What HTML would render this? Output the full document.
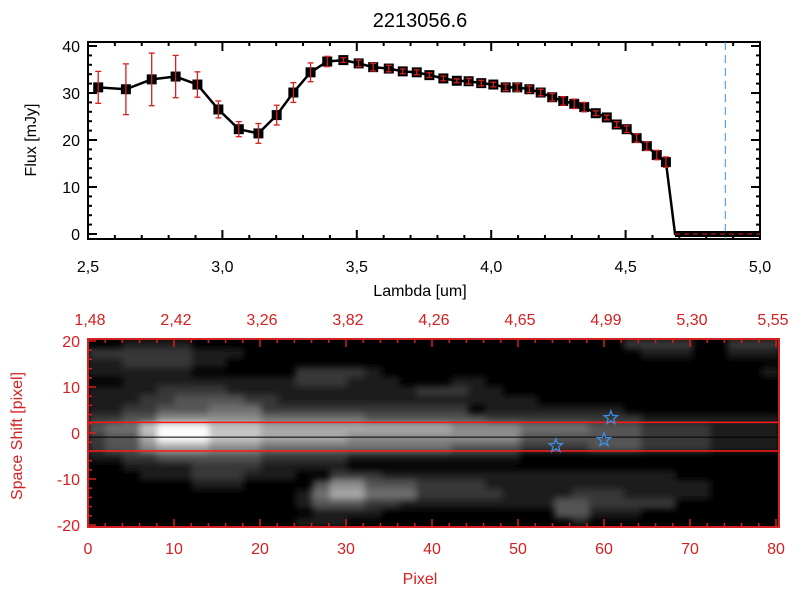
<!DOCTYPE html>
<html><head><meta charset="utf-8"><style>
html,body{margin:0;padding:0;background:#fff;}
svg{display:block;font-family:"Liberation Sans",sans-serif;}
</style></head><body>
<svg id="c" width="800" height="600" viewBox="0 0 800 600">
<defs>
<filter id="blr" x="-5%" y="-5%" width="110%" height="110%"><feGaussianBlur stdDeviation="3.5"/></filter>
<clipPath id="imgclip"><rect x="88" y="339" width="691" height="188"/></clipPath>
</defs>
</svg>
<script>
// ---- data ----
const lambdaVals = [2.538,2.641,2.737,2.826,2.907,2.985,3.061,3.134,3.202,3.264,3.328,3.390,3.450,3.507,3.561,3.619,3.671,3.723,3.770,3.822,3.872,3.916,3.963,4.008,4.054,4.097,4.142,4.184,4.227,4.268,4.309,4.346,4.389,4.430,4.467,4.504,4.541,4.579,4.616,4.650];
const fluxVals = [31.2,30.8,32.9,33.5,31.8,26.5,22.3,21.4,25.3,30.1,34.4,36.7,37.0,36.3,35.5,35.2,34.6,34.4,33.8,33.1,32.6,32.5,32.1,31.8,31.2,31.2,30.8,30.1,29.1,28.3,27.7,27.0,25.7,24.8,23.3,22.3,20.4,18.7,16.8,15.3];
const fluxErr = [3.4,5.4,5.6,4.5,2.7,1.8,1.6,2.1,2.1,2.1,2.0,1.1,0.5,0.7,0.8,0.7,0.5,0.5,0.5,0.5,0.4,0.6,0.6,0.5,0.7,0.8,0.7,0.7,0.8,0.9,1.0,1.0,0.5,0.5,0.6,0.7,0.9,0.9,1.0,1.1];
const tailLambda = [4.684,5.0];
const cutLambda = 4.871;
const xTickLabels = ["2.5","3.0","3.5","4.0","4.5","5.0"];
const yTickLabels = ["0","10","20","30","40"];
const pixTicks = [0,10,20,30,40,50,60,70,80];
const topWaveLabels = ["1.48","2.42","3.26","3.82","4.26","4.65","4.99","5.30","5.55"];
const shiftTicks = [-20,-10,0,10,20];
const apertureLines = [2.3,-3.9];
const traceLine = -0.9;
const starPix = [54.4,60.0,60.8];
const starShift = [-2.8,-1.5,3.3];
// heatmap rows: run-length [level,count], 40 columns x 20 rows, top (shift +20) to bottom
const heatRows = [
 [[0,2],[1,4],[0,25],[2,4],[0,2],[2,3]],
 [[2,6],[1,3],[0,23],[1,3],[0,2],[1,3]],
 [[1,2],[2,4],[1,2],[0,32]],
 [[1,6],[0,6],[2,4],[1,1],[0,22],[1,1]],
 [[0,2],[1,10],[2,3],[1,3],[0,3],[1,2],[0,17]],
 [[1,4],[2,4],[1,5],[1,6],[2,3],[1,2],[0,16]],
 [[1,3],[2,2],[3,4],[2,2],[1,11],[1,4],[0,14]],
 [[1,2],[2,2],[3,3],[4,3],[2,3],[2,9],[0,1],[1,8],[0,9]],
 [[2,2],[3,2],[5,2],[5,4],[4,6],[3,7],[2,5],[2,4],[1,8]],
 [[3,1],[4,2],[7,1],[9,3],[7,3],[6,5],[6,6],[5,4],[4,4],[3,3],[2,4],[1,4]],
 [[2,1],[3,2],[6,1],[9,3],[7,3],[6,5],[5,6],[5,4],[3,4],[3,3],[2,4],[1,4]],
 [[2,1],[3,2],[5,1],[6,3],[5,3],[4,5],[4,6],[3,4],[2,4],[3,3],[2,4],[1,4]],
 [[1,2],[2,2],[3,3],[3,3],[2,5],[1,6],[1,4],[0,15]],
 [[0,2],[1,4],[2,4],[1,5],[0,25]],
 [[0,3],[1,3],[2,3],[1,3],[0,2],[2,3],[1,4],[1,9],[1,4],[0,6]],
 [[0,6],[1,3],[0,4],[3,1],[5,2],[3,3],[2,4],[1,9],[1,4],[0,4]],
 [[0,12],[1,1],[4,1],[6,2],[4,3],[2,5],[1,4],[2,3],[1,5],[0,4]],
 [[0,12],[1,1],[3,3],[2,2],[1,9],[3,2],[2,5],[0,6]],
 [[0,13],[1,4],[0,10],[3,2],[1,3],[0,8]],
 [[0,12],[1,3],[0,13],[1,1],[0,11]]
];
</script>
<script>
const NS="http://www.w3.org/2000/svg";
const svg=document.getElementById('c');
function mk(tag,attrs,parent){const e=document.createElementNS(NS,tag);for(const k in attrs)e.setAttribute(k,attrs[k]);(parent||svg).appendChild(e);return e;}
const RED="#d42020";
const T={l:88,r:760,t:42,b:239};
const xs=v=>T.l+(v-2.5)*(T.r-T.l)/2.5;
const ys=v=>234-v*4.7;
let e=mk('text',{x:420,y:27,'text-anchor':'middle','font-size':20,fill:'#000'});e.textContent='2213056.6';


e=mk('rect',{x:T.l,y:T.t,width:T.r-T.l,height:T.b-T.t,fill:'none',stroke:'#000','stroke-width':2});


for(let i=0;i<=25;i++){const v=2.5+i*0.1;const x=xs(v);const L=(i%5==0)?9:4;
 mk('line',{x1:x,y1:T.b,x2:x,y2:T.b-L,stroke:'#000','stroke-width':2});
 mk('line',{x1:x,y1:T.t,x2:x,y2:T.t+L,stroke:'#000','stroke-width':2});}
xTickLabels.forEach((s,i)=>{e=mk('text',{x:xs(parseFloat(s)),y:272,'text-anchor':'middle','font-size':16,fill:'#000'});e.textContent=s.replace('.',',');
 
 });
for(let v=0;v<=40;v+=2){const y=ys(v);const L=(v%10==0)?9:4;
 mk('line',{x1:T.l,y1:y,x2:T.l+L,y2:y,stroke:'#000','stroke-width':2});
 mk('line',{x1:T.r,y1:y,x2:T.r-L,y2:y,stroke:'#000','stroke-width':2});}
yTickLabels.forEach(s=>{e=mk('text',{x:80,y:ys(+s)+6,'text-anchor':'end','font-size':16,fill:'#000'});e.textContent=s;
 
 });
e=mk('text',{x:420,y:296,'text-anchor':'middle','font-size':16,fill:'#000'});e.textContent='Lambda [um]';


e=mk('text',{x:0,y:0,'text-anchor':'middle','font-size':16,fill:'#000',transform:'translate(36,140) rotate(-90)'});e.textContent='Flux [mJy]';


e=mk('line',{x1:xs(cutLambda),y1:T.t,x2:xs(cutLambda),y2:T.b,stroke:'#3a8ee6','stroke-width':1,'stroke-dasharray':'8,5'});


let pts=lambdaVals.map((v,i)=>xs(v)+','+ys(fluxVals[i]));
pts.push(xs(tailLambda[0])+','+ys(0));pts.push(xs(tailLambda[1])+','+ys(0));
e=mk('polyline',{points:pts.join(' '),fill:'none',stroke:'#000','stroke-width':2.5});


e=mk('rect',{x:xs(tailLambda[0]),y:ys(0)-3,width:xs(tailLambda[1])-xs(tailLambda[0]),height:6,fill:'#000'});


e=mk('line',{x1:xs(tailLambda[0]),y1:ys(0),x2:xs(tailLambda[1]),y2:ys(0),stroke:RED,'stroke-width':1,'stroke-dasharray':'5,4'});


lambdaVals.forEach((v,i)=>{const x=xs(v),y=ys(fluxVals[i]);
 e=mk('rect',{x:x-5,y:y-5,width:10,height:10,fill:'#000'});
 
 
 const y1=ys(fluxVals[i]+fluxErr[i]),y2=ys(fluxVals[i]-fluxErr[i]);
 const g=mk('g',{stroke:RED,'stroke-width':1.3});
 
 
 mk('line',{x1:x,y1:y1,x2:x,y2:y2},g);
 mk('line',{x1:x-3,y1:y1,x2:x+3,y2:y1},g);
 mk('line',{x1:x-3,y1:y2,x2:x+3,y2:y2},g);});
// bottom panel
const B={l:88,r:779,t:339,b:527};
const px=v=>88+v*8.6;
const sy=v=>433-v*4.6;
const cw=(B.r-B.l)/40, ch=(B.b-B.t)/20;
mk('rect',{x:B.l,y:B.t,width:B.r-B.l,height:B.b-B.t,fill:'#000'});
const clipG=mk('g',{'clip-path':'url(#imgclip)'});
const hg=mk('g',{filter:'url(#blr)'},clipG);


heatRows.forEach((row,r)=>{let c=0;row.forEach(([lv,n])=>{
 if(lv>0){const g=Math.min(255,Math.round(lv*28));
  e=mk('rect',{x:B.l+c*cw,y:B.t+r*ch,width:n*cw+0.5,height:ch+0.5,fill:`rgb(${g},${g},${g})`},hg);
  
  }
 c+=n;});});
apertureLines.forEach(v=>{e=mk('line',{x1:B.l,y1:sy(v),x2:B.r,y2:sy(v),stroke:'#ff1a1a','stroke-width':1.5});
 
 });
e=mk('line',{x1:B.l,y1:sy(traceLine),x2:B.r,y2:sy(traceLine),stroke:'#000','stroke-width':1});


function starPath(cx,cy,R){let p=[];for(let k=0;k<10;k++){const a=-Math.PI/2+k*Math.PI/5;const rr=k%2?R*0.42:R;p.push((cx+rr*Math.cos(a)).toFixed(1)+','+(cy+rr*Math.sin(a)).toFixed(1));}return p.join(' ');}
starPix.forEach((v,i)=>{e=mk('polygon',{points:starPath(px(v),sy(starShift[i]),7),fill:'none',stroke:'#3a8ee6','stroke-width':1.3});
 
 });
e=mk('rect',{x:B.l,y:B.t,width:B.r-B.l,height:B.b-B.t,fill:'none',stroke:RED,'stroke-width':2});


for(let v=0;v<=80;v+=2){const x=px(v);const L=(v%10==0)?8:4;
 mk('line',{x1:x,y1:B.b,x2:x,y2:B.b-L,stroke:RED,'stroke-width':1.5});
 mk('line',{x1:x,y1:B.t,x2:x,y2:B.t+L,stroke:RED,'stroke-width':1.5});}
pixTicks.forEach((v,i)=>{e=mk('text',{x:px(v),y:554,'text-anchor':'middle','font-size':16,fill:RED});e.textContent=String(v);
 
 
 e=mk('text',{x:Math.min(px(v)+2,773),y:325,'text-anchor':'middle','font-size':16,fill:RED});e.textContent=topWaveLabels[i].replace('.',',');
 
 });
for(let v=-20;v<=20;v+=2){const y=sy(v);const L=(v%10==0)?8:4;
 mk('line',{x1:B.l,y1:y,x2:B.l+L,y2:y,stroke:RED,'stroke-width':1.5});}
shiftTicks.forEach(v=>{e=mk('text',{x:80,y:sy(v)+6,'text-anchor':'end','font-size':16,fill:RED});e.textContent=String(v);
 
 });
e=mk('text',{x:420,y:584,'text-anchor':'middle','font-size':16,fill:RED});e.textContent='Pixel';


e=mk('text',{x:0,y:0,'text-anchor':'middle','font-size':16,fill:RED,transform:'translate(22,436) rotate(-90)'});e.textContent='Space Shift [pixel]';


</script>
</body></html>
